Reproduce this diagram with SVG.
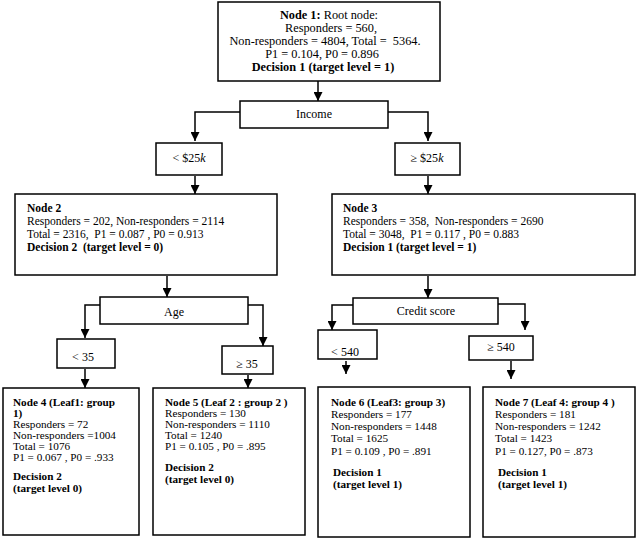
<svg xmlns="http://www.w3.org/2000/svg" width="637" height="540" viewBox="0 0 637 540">
<style>
rect{fill:#fff;stroke:#000;stroke-width:1.5}
text{font-family:"Liberation Serif","Times New Roman",serif;fill:#000;white-space:pre}
.r{font-size:12.3px}
.n{font-size:11.5px}
.l{font-size:11.2px}
.c{font-size:12px;text-anchor:middle}
.b{font-weight:bold}
.conn path{fill:none;stroke:#000;stroke-width:1.5;marker-end:url(#ah)}
</style>
<defs>
<marker id="ah" markerUnits="userSpaceOnUse" markerWidth="9" markerHeight="9" refX="9" refY="4.5" orient="auto">
<path d="M0,0 L9,4.5 L0,9 z" fill="#000"/>
</marker>
</defs>
<rect x="0" y="0" width="637" height="540" style="stroke:none"/>
<g class="conn" id="connectors">
<path d="M318,81 V101"/>
<path d="M240,112 H195 V141"/>
<path d="M388,112 H428 V141"/>
<path d="M195,176 V194"/>
<path d="M428,176 V194"/>
<path d="M167,276 V297"/>
<path d="M428,276 V298"/>
<path d="M100,305 H85 V338"/>
<path d="M248,305 H263 V346"/>
<path d="M85,369 V388"/>
<path d="M248,375 V388"/>
<path d="M353,305 H332 V330"/>
<path d="M498,304 H525 V330"/>
<path d="M346,361 V374"/>
<path d="M511,361 V379"/>
</g>
<g id="node1">
<rect x="218" y="2" width="222" height="79"/>
<text class="r" text-anchor="middle"><tspan x="329" y="18.5"><tspan class="b">Node 1:</tspan> Root node:</tspan><tspan x="331" y="31.5">Responders = 560,</tspan><tspan x="325" y="44.5">Non-responders = 4804, Total =  5364.</tspan><tspan x="322" y="57.5">P1 = 0.104, P0 = 0.896</tspan><tspan x="323" y="70.5" class="b">Decision 1 (target level = 1)</tspan></text>
</g>
<g id="income">
<rect x="240" y="101" width="148" height="27"/>
<text class="c" x="314" y="118">Income</text>
</g>
<g id="lt25k">
<rect x="156" y="143" width="66" height="32"/>
<text class="c" x="189" y="162">&lt; $25<tspan font-style="italic">k</tspan></text>
</g>
<g id="ge25k">
<rect x="395" y="143" width="65" height="32"/>
<text class="c" x="427" y="162">≥ $25<tspan font-style="italic">k</tspan></text>
</g>
<g id="node2">
<rect x="15" y="194" width="262" height="81"/>
<text class="n"><tspan x="27" y="212" class="b">Node 2</tspan><tspan x="27" y="225">Responders = 202, Non-responders = 2114</tspan><tspan x="27" y="238">Total = 2316,  P1 = 0.087 , P0 = 0.913</tspan><tspan x="27" y="251" class="b">Decision 2  (target level = 0)</tspan></text>
</g>
<g id="node3">
<rect x="332" y="194" width="303" height="81"/>
<text class="n"><tspan x="343" y="212" class="b">Node 3</tspan><tspan x="343" y="225">Responders = 358,  Non-responders = 2690</tspan><tspan x="343" y="238">Total = 3048,  P1 = 0.117 , P0 = 0.883</tspan><tspan x="343" y="251" class="b">Decision 1 (target level = 1)</tspan></text>
</g>
<g id="age">
<rect x="100" y="297" width="148" height="27"/>
<text class="c" x="174" y="316">Age</text>
</g>
<g id="lt35">
<rect x="57" y="339" width="58" height="29"/>
<text class="c" x="83" y="361">&lt; 35</text>
</g>
<g id="ge35">
<rect x="222" y="346" width="51" height="28"/>
<text class="c" x="247" y="368">≥ 35</text>
</g>
<g id="credit">
<rect x="353" y="298" width="145" height="26"/>
<text class="c" x="426" y="315">Credit score</text>
</g>
<g id="lt540">
<rect x="318" y="330" width="59" height="29"/>
<text class="c" x="345" y="356">&lt; 540</text>
</g>
<g id="ge540">
<rect x="469" y="336" width="64" height="24"/>
<text class="c" x="501" y="351">≥ 540</text>
</g>
<g id="node4">
<rect x="3" y="388" width="136" height="147"/>
<text class="l"><tspan x="13" y="406" class="b">Node 4 (Leaf1: group</tspan><tspan x="13" y="417" class="b">1)</tspan><tspan x="13" y="428">Responders = 72</tspan><tspan x="13" y="439">Non-responders =1004</tspan><tspan x="13" y="450">Total = 1076</tspan><tspan x="13" y="461">P1 = 0.067 , P0 = .933</tspan><tspan x="13" y="480" class="b">Decision 2</tspan><tspan x="13" y="492" class="b">(target level 0)</tspan></text>
</g>
<g id="node5">
<rect x="153" y="388" width="152" height="147"/>
<text class="l"><tspan x="165" y="406" class="b">Node 5 (Leaf 2 : group 2 )</tspan><tspan x="165" y="417">Responders = 130</tspan><tspan x="165" y="428">Non-responders = 1110</tspan><tspan x="165" y="439">Total = 1240</tspan><tspan x="165" y="450">P1 = 0.105 , P0 = .895</tspan><tspan x="165" y="471" class="b">Decision 2</tspan><tspan x="165" y="483" class="b">(target level 0)</tspan></text>
</g>
<g id="node6">
<rect x="318" y="387" width="152" height="150"/>
<text class="l"><tspan x="331" y="406" class="b">Node 6 (Leaf3: group 3)</tspan><tspan x="331" y="418">Responders = 177</tspan><tspan x="331" y="430">Non-responders = 1448</tspan><tspan x="331" y="442">Total = 1625</tspan><tspan x="331" y="455">P1 = 0.109 , P0 = .891</tspan><tspan x="333" y="476" class="b">Decision 1</tspan><tspan x="333" y="488" class="b">(target level 1)</tspan></text>
</g>
<g id="node7">
<rect x="483" y="387" width="152" height="150"/>
<text class="l"><tspan x="495" y="406" class="b">Node 7 (Leaf 4: group 4 )</tspan><tspan x="495" y="418">Responders = 181</tspan><tspan x="495" y="430">Non-responders = 1242</tspan><tspan x="495" y="442">Total = 1423</tspan><tspan x="495" y="455">P1 = 0.127, P0 = .873</tspan><tspan x="498" y="476" class="b">Decision 1</tspan><tspan x="498" y="488" class="b">(target level 1)</tspan></text>
</g>
</svg>
